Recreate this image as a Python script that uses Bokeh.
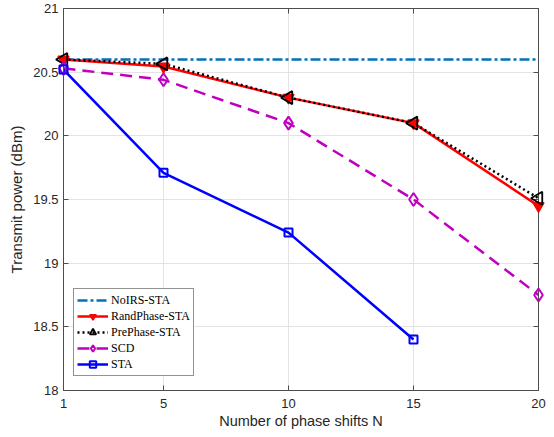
import numpy as np
from bokeh.plotting import figure
from bokeh.models import FixedTicker, LinearAxis, Range1d
from bokeh.embed import file_html
from bokeh.resources import INLINE

# ---------------- data ----------------
N_vals = [1, 5, 10, 15, 20]
N_sta = [1, 5, 10, 15]
noirs_sta = [20.6, 20.6, 20.6, 20.6, 20.6]
randphase_sta = [20.6, 20.545, 20.3, 20.1, 19.45]
prephase_sta = [20.6, 20.565, 20.3, 20.1, 19.51]
scd = [20.53, 20.44, 20.1, 19.5, 18.75]
sta = [20.52, 19.71, 19.24, 18.4]

x_ticks = [1, 5, 10, 15, 20]
y_ticks = [18, 18.5, 19, 19.5, 20, 20.5, 21]
y_tick_labels = ["18", "18.5", "19", "19.5", "20", "20.5", "21"]

x_label_text = "Number of phase shifts N"
y_label_text = "Transmit power (dBm)"

# ---------------- styles ----------------
AX = "#4d4d4d"
GRID = "#e3e3e3"
TXT = "#262626"
SANS = "Liberation Sans"
SERIF = "Liberation Serif"

p = figure(width=554, height=437,
           x_range=Range1d(1, 20), y_range=Range1d(18, 21),
           min_border_left=63, min_border_right=16,
           min_border_top=8, min_border_bottom=47,
           output_backend="svg", toolbar_location=None,
           background_fill_color="white", border_fill_color="white")
p.outline_line_color = AX
p.outline_line_width = 1


def style_axis(ax, ticks, labels=True):
    ax.ticker = FixedTicker(ticks=ticks)
    ax.axis_line_color = AX
    ax.axis_line_width = 1
    ax.major_tick_line_color = AX
    ax.major_tick_in = 5
    ax.major_tick_out = 0
    ax.minor_tick_line_color = None
    ax.major_label_text_font = SANS
    if labels:
        ax.major_label_text_color = TXT
        ax.major_label_text_font_size = "13px"
    else:
        ax.major_label_text_color = None
        ax.major_label_text_font_size = "1px"
        ax.major_label_standoff = 0


style_axis(p.xaxis[0], x_ticks)
style_axis(p.yaxis[0], y_ticks)
p.xaxis[0].major_label_standoff = 8
p.yaxis[0].major_label_standoff = 5
p.yaxis[0].major_label_overrides = {t: s for t, s in zip(y_ticks, y_tick_labels)}

p.xaxis[0].axis_label = x_label_text
p.xaxis[0].axis_label_text_font = SANS
p.xaxis[0].axis_label_text_font_style = "normal"
p.xaxis[0].axis_label_text_font_size = "14.5px"
p.xaxis[0].axis_label_text_color = TXT
p.xaxis[0].axis_label_standoff = 2

p.yaxis[0].axis_label = y_label_text
p.yaxis[0].axis_label_text_font = SANS
p.yaxis[0].axis_label_text_font_style = "normal"
p.yaxis[0].axis_label_text_font_size = "15px"
p.yaxis[0].axis_label_text_color = TXT
p.yaxis[0].axis_label_standoff = 5

top_ax = LinearAxis()
style_axis(top_ax, x_ticks, labels=False)
p.add_layout(top_ax, "above")
right_ax = LinearAxis()
style_axis(right_ax, y_ticks, labels=False)
p.add_layout(right_ax, "right")

p.xgrid.ticker = FixedTicker(ticks=x_ticks)
p.ygrid.ticker = FixedTicker(ticks=y_ticks)
p.xgrid.grid_line_color = GRID
p.ygrid.grid_line_color = GRID
p.xgrid.grid_line_width = 1
p.ygrid.grid_line_width = 1

# ---------------- series ----------------
p.line(N_vals, noirs_sta, line_color="#0072BD", line_width=2.5,
       line_dash="10 3 3 3", legend_label="NoIRS-STA")

p.line(N_vals, randphase_sta, line_color="#FF0000", line_width=2.5,
       legend_label="RandPhase-STA")
r1 = p.scatter(N_vals, randphase_sta, marker="inverted_triangle", size=11,
               line_color="#FF0000", fill_color="#FF0000", line_width=1.5,
               legend_label="RandPhase-STA")

p.line(N_vals, prephase_sta, line_color="black", line_width=2.5,
       line_dash="2 3", legend_label="PrePhase-STA")
r2 = p.scatter(N_vals, prephase_sta, marker="triangle", angle=np.pi / 2,
               size=13, line_color="black", fill_color=None, line_width=1.8,
               legend_label="PrePhase-STA")

p.line(N_vals, scd, line_color="#BF00BF", line_width=2.5,
       line_dash="12 7", legend_label="SCD")
r3 = p.scatter(N_vals, scd, marker="diamond", size=13,
               line_color="#BF00BF", fill_color=None, line_width=2,
               legend_label="SCD")

p.line(N_sta, sta, line_color="#0000FF", line_width=2.5, legend_label="STA")
r4 = p.scatter(N_sta, sta, marker="square", size=8,
               line_color="#0000FF", fill_color=None, line_width=2,
               legend_label="STA")

# markers are not clipped at the axes box (as in the reference)
for r in (r1, r2, r3, r4):
    r.level = "overlay"

# ---------------- legend ----------------
lg = p.legend[0]
lg.location = (10, 14)
lg.margin = 0
lg.padding = 3
lg.spacing = 0
lg.glyph_width = 31
lg.glyph_height = 16
lg.label_height = 16
lg.label_standoff = 3
lg.label_text_font = SERIF
lg.label_text_font_size = "12px"
lg.label_text_color = "black"
lg.border_line_color = TXT
lg.border_line_width = 1
lg.background_fill_color = "white"
lg.background_fill_alpha = 1.0

open("out.html", "w").write(file_html(p, INLINE))
